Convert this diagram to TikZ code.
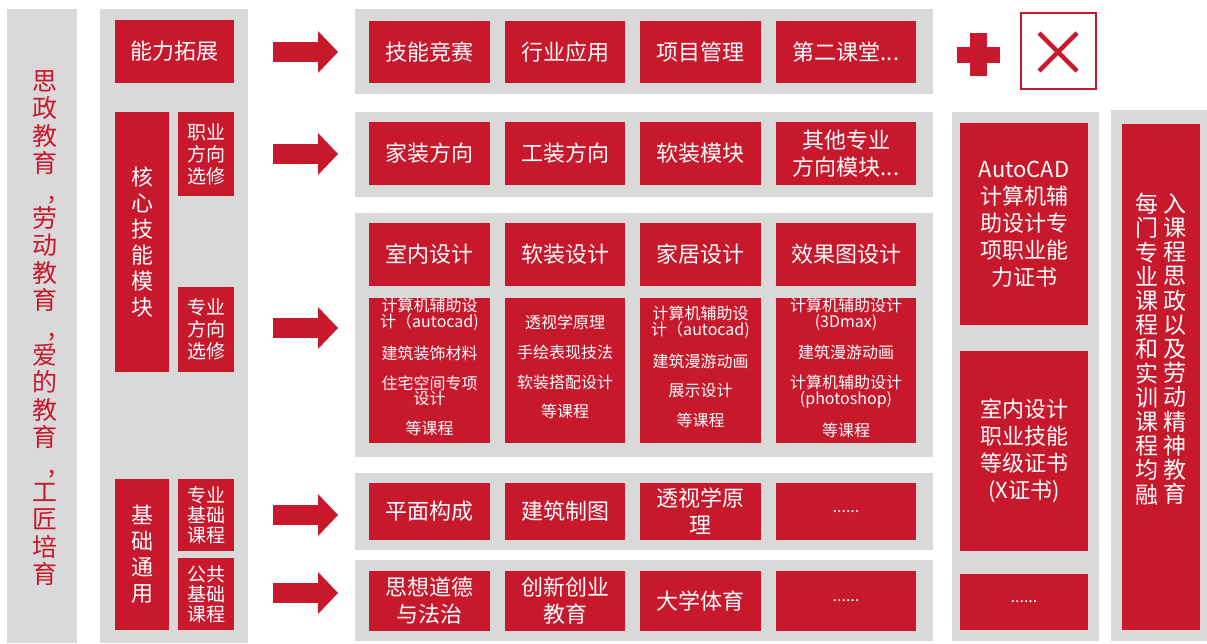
\documentclass[tikz,border=0pt]{standalone}
\usepackage{fontspec}
\setmainfont{Noto Sans CJK SC}
\usetikzlibrary{arrows.meta}
\definecolor{cred}{RGB}{200,24,44}
\definecolor{cgray}{RGB}{217,217,217}
\newcommand\myfs[2]{\fontsize{#1}{#2}\selectfont}
\newcommand\vcomma{\hspace*{15pt},}
% style, x1, y1, x2, y2, name, text
\newcommand\bx[7]{\node[#1, minimum width={#4-#2}, minimum height={#5-#3}] (#6) at ({(#2+#4)/2},{(#3+#5)/2}) {#7};}
\begin{document}
\begin{tikzpicture}[x=1pt,y=-1pt,
  panel/.style={fill=cgray, draw=none, inner sep=0pt, outer sep=0pt},
  rbox/.style={fill=cred, text=white, inner sep=0pt, outer sep=0pt, align=center, font=\myfs{22}{27}},
  xbox/.style={fill=white, draw=cred, line width=2.5pt, inner sep=0pt},
  detail/.style={text=white, align=center, inner sep=0pt, font=\myfs{16}{13}},
  vtext/.style={align=center, inner sep=0pt},
  arr/.style={cred, line width=20pt, -{Triangle[width=42pt, length=20pt, line width=0pt]}}]
\fill[white] (0,0) rectangle (1207,643);
\useasboundingbox (0,0) rectangle (1207,643);
% panels
\bx{panel}{7}{9}{77}{643}{lbar}{}
\bx{panel}{100}{9}{248}{643}{lpan}{}
\bx{panel}{355}{9}{933}{94}{row1}{}
\bx{panel}{355}{112}{933}{197}{row2}{}
\bx{panel}{355}{213}{933}{457}{row3}{}
\bx{panel}{355}{473}{933}{550}{row4}{}
\bx{panel}{355}{560}{933}{641}{row5}{}
\bx{panel}{952}{112}{1099}{641}{rp1}{}
\bx{panel}{1111}{110}{1207}{641}{rp2}{}
% left vertical text
\node[vtext, text=cred, font=\myfs{25}{27.4}] (ltxt) at (44.5,328) {思\\政\\教\\育\\\vcomma\\劳\\动\\教\\育\\\vcomma\\爱\\的\\教\\育\\\vcomma\\工\\匠\\培\\育};
% left column boxes
\bx{rbox}{115}{20}{234}{83}{nl}{能力拓展}
\bx{rbox, font=\myfs{22}{26}}{115}{112}{169}{372}{hx}{核\\心\\技\\能\\模\\块}
\bx{rbox, font=\myfs{19}{22}}{178}{112}{234}{196}{zx1}{职业\\方向\\选修}
\bx{rbox, font=\myfs{19}{22}}{178}{287}{234}{372}{zx2}{专业\\方向\\选修}
\bx{rbox, font=\myfs{22}{26}}{115}{479}{169}{630}{jc}{基\\础\\通\\用}
\bx{rbox, font=\myfs{19}{20}}{178}{479}{234}{551}{zj}{专业\\基础\\课程}
\bx{rbox, font=\myfs{19}{20}}{178}{558}{234}{630}{gg}{公共\\基础\\课程}
% arrows
\coordinate (a1s) at (273,52);  \coordinate (a1e) at (338,52);
\coordinate (a2s) at (273,154); \coordinate (a2e) at (338,154);
\coordinate (a3s) at (273,328); \coordinate (a3e) at (338,328);
\coordinate (a4s) at (273,515); \coordinate (a4e) at (338,515);
\coordinate (a5s) at (273,593); \coordinate (a5e) at (338,593);
\draw[arr] (a1s) -- (a1e);
\draw[arr] (a2s) -- (a2e);
\draw[arr] (a3s) -- (a3e);
\draw[arr] (a4s) -- (a4e);
\draw[arr] (a5s) -- (a5e);
% row 1
\bx{rbox}{369}{21}{490}{83}{r1a}{技能竞赛}
\bx{rbox}{505}{21}{625}{83}{r1b}{行业应用}
\bx{rbox}{640}{21}{761}{83}{r1c}{项目管理}
\bx{rbox}{776}{21}{916}{83}{r1d}{第二课堂...}
% row 2
\bx{rbox}{369}{122}{490}{185}{r2a}{家装方向}
\bx{rbox}{505}{122}{625}{185}{r2b}{工装方向}
\bx{rbox}{640}{122}{761}{185}{r2c}{软装模块}
\bx{rbox}{776}{122}{916}{185}{r2d}{其他专业\\方向模块...}
% row 3 headers
\bx{rbox}{369}{223}{490}{286}{r3a}{室内设计}
\bx{rbox}{505}{223}{625}{286}{r3b}{软装设计}
\bx{rbox}{640}{223}{761}{286}{r3c}{家居设计}
\bx{rbox}{776}{223}{916}{286}{r3d}{效果图设计}
% row 3 details
\bx{rbox}{369}{298}{490}{443}{d1}{}
\bx{rbox}{505}{298}{625}{443}{d2}{}
\bx{rbox}{640}{298}{761}{443}{d3}{}
\bx{rbox}{776}{298}{916}{443}{d4}{}
\node[detail] (t1) at (429.5,367) {计算机辅助设\\计（autocad)\\[14pt]建筑装饰材料\\[14pt]住宅空间专项\\设计\\[14pt]等课程};
\node[detail] (t2) at (565,367) {透视学原理\\[14pt]手绘表现技法\\[14pt]软装搭配设计\\[14pt]等课程};
\node[detail] (t3) at (700.5,367) {计算机辅助设\\计（autocad)\\[14pt]建筑漫游动画\\[14pt]展示设计\\[14pt]等课程};
\node[detail] (t4) at (846,368) {计算机辅助设计\\(3Dmax)\\[14pt]建筑漫游动画\\[14pt]计算机辅助设计\\(photoshop)\\[14pt]等课程};
% row 4
\bx{rbox}{369}{483}{490}{540}{r4a}{平面构成}
\bx{rbox}{505}{483}{625}{540}{r4b}{建筑制图}
\bx{rbox}{640}{483}{761}{540}{r4c}{透视学原\\理}
\bx{rbox, font=\myfs{16}{16}}{776}{483}{916}{540}{r4d}{......}
% row 5
\bx{rbox}{369}{571}{490}{631}{r5a}{思想道德\\与法治}
\bx{rbox}{505}{571}{625}{631}{r5b}{创新创业\\教育}
\bx{rbox}{640}{571}{761}{631}{r5c}{大学体育}
\bx{rbox, font=\myfs{16}{16}}{776}{571}{916}{631}{r5d}{......}
% plus and X
\fill[cred] (957,47) rectangle (1000,63);
\fill[cred] (970,33) rectangle (987,76);
\bx{xbox}{1021}{13}{1096}{89}{xb}{}
\draw[cred, line width=4.5pt] (1039,33) -- (1077,71) (1039,71) -- (1077,33);
% right side
\bx{rbox}{960}{123}{1088}{325}{ac}{AutoCAD\\计算机辅\\助设计专\\项职业能\\力证书}
\bx{rbox}{960}{351}{1088}{551}{xz}{室内设计\\职业技能\\等级证书\\(X证书)}
\bx{rbox, font=\myfs{16}{16}}{960}{574}{1088}{630}{rd}{......}
\bx{rbox}{1122}{124}{1200}{630}{rv}{}
\node[vtext, text=white, font=\myfs{23}{24.2}] (rv1) at (1146.5,349) {每\\门\\专\\业\\课\\程\\和\\实\\训\\课\\程\\均\\融};
\node[vtext, text=white, font=\myfs{23}{24.2}] (rv2) at (1175,349) {入\\课\\程\\思\\政\\以\\及\\劳\\动\\精\\神\\教\\育};
\end{tikzpicture}
\end{document}
